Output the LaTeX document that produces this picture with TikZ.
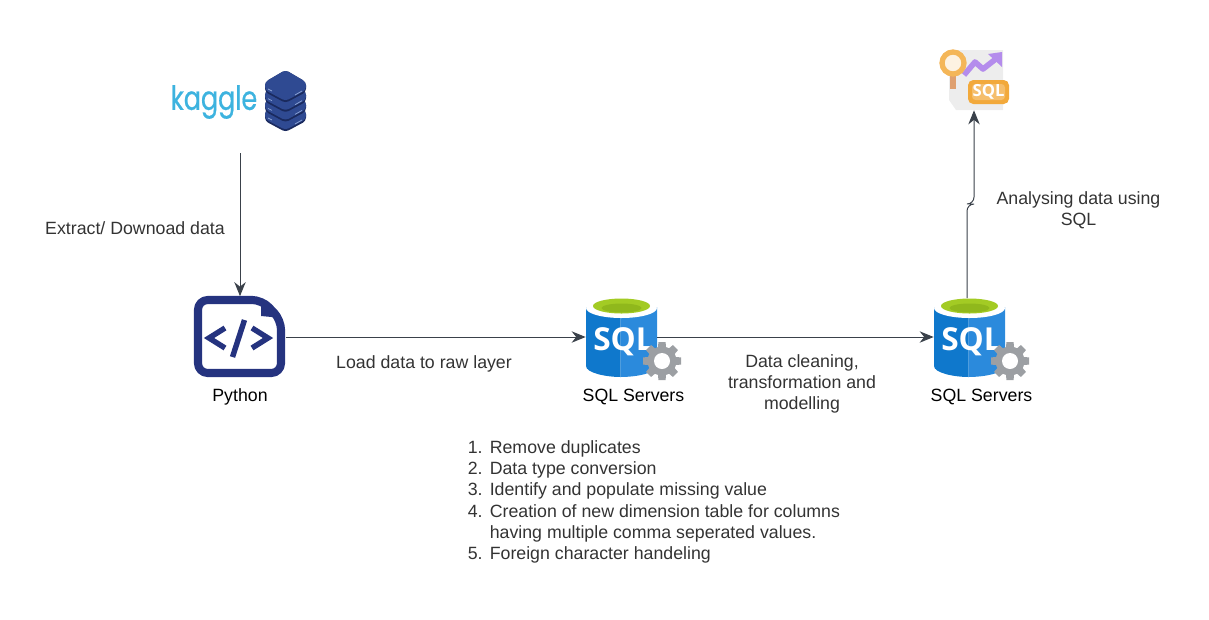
\documentclass[tikz,border=0pt]{standalone}
\usepackage{fontspec}
\setmainfont{Liberation Sans}
\newfontfamily\kagglefont[FakeBold=0.7]{Poppins}
\newfontfamily\sqlfont{Open Sans}
\usetikzlibrary{arrows.meta}

\definecolor{flowgrey}{HTML}{3A414A}
\definecolor{textgrey}{HTML}{333333}
\definecolor{navyicon}{HTML}{25337F}
\definecolor{sqlleft}{HTML}{0F78CC}
\definecolor{sqlright}{HTML}{2B8ADC}
\definecolor{sqlgreen}{HTML}{A3CB24}
\definecolor{sqlgreendark}{HTML}{90B81C}
\definecolor{geargrey}{HTML}{9C9FA3}
\definecolor{kagglecyan}{HTML}{3DB3DF}
\definecolor{stackblue}{HTML}{2F4A92}
\definecolor{stackdark}{HTML}{1A2A5E}
\definecolor{stacklight}{HTML}{8FA6D6}
\definecolor{orangeicon}{HTML}{F2A93B}
\definecolor{purpleicon}{HTML}{B48CEC}

\tikzset{
  flowline/.style={draw=flowgrey, line width=0.55pt, -{Stealth[length=8pt, width=6.5pt]}},
  iconbox/.style={inner sep=0pt, minimum width=#1},
  caption/.style={font=\fontsize{10.1}{12.1}\selectfont, text=black},
  note/.style={font=\fontsize{10.1}{12.1}\selectfont, text=textgrey, align=center},
  sqlicon/.pic={
    % Cylinder body
    \fill[sqlleft] (-35.5,-30) -- (-35.5,29) .. controls (-35.5,36) and (-15,40) .. (-1,40) -- (-1,-30) -- cycle;
    \fill[sqlright] (-1,-30) -- (-1,40) .. controls (15,40) and (35.5,36) .. (35.5,29) -- (35.5,-30) -- cycle;
    \fill[white] (0,-29) ellipse (35.5 and 10);
    \fill[sqlgreen] (0,-31) ellipse (28.5 and 7.5);
    \fill[sqlgreendark] (0,-29) ellipse (20 and 4.5);
    \node[inner sep=0pt, text=white, font=\fontsize{18}{18}\sqlfont\bfseries] (sqltext) at (2,5) {SQL};
    % Gear
    \begin{scope}[shift={(40.5,24)}]
      \foreach \ang in {0,45,...,315} {
        \fill[geargrey, rotate=\ang] (-5,0) -- (5,0) -- (3.6,19) -- (-3.6,19) -- cycle;
      }
      \fill[geargrey] (0,0) circle (14.5);
      \fill[white] (0,0) circle (8);
    \end{scope}
  }
}

\begin{document}
\begin{tikzpicture}[x=0.02cm, y=-0.02cm]
    \useasboundingbox (0,0) rectangle (1209,619);

    % Kaggle logo and server stack
    \node[inner sep=0pt, text=kagglecyan, font=\fontsize{19}{19}\kagglefont] (kaggle) at (214,102) {\scalebox{0.76}[1]{kaggle}};
    \foreach \yy in {29,19.4,9.7,0} {
      \fill[stackdark, rounded corners=2] (265,82+\yy) -- (285.5,70+\yy) -- (306,82+\yy) -- (306,92+\yy) -- (285.5,103+\yy) -- (265,92+\yy) -- cycle;
      \fill[stackblue, rounded corners=2] (265,82+\yy) -- (285.5,70+\yy) -- (306,82+\yy) -- (306,90+\yy) -- (285.5,101+\yy) -- (265,90+\yy) -- cycle;
      \draw[stacklight, line width=0.4pt] (268,89+\yy) -- (272,91+\yy) (295,95+\yy) -- (302,91+\yy);
    }
    \coordinate (kaggleout) at (240,153);

    % Python icon
    \node[iconbox=1.82cm, minimum height=1.62cm] (python) at (240,337) {};
    \draw[navyicon, line width=4.6pt, rounded corners=5.5, line join=round] (198,300) -- (262,300) -- (281,320) -- (281,373) -- (198,373) -- cycle;
    \fill[navyicon] (261,298) -- (282,318) -- (261,316) -- cycle;
    \draw[navyicon, line width=3.1pt] (225,328) -- (209,338) -- (225,348);
    \draw[navyicon, line width=3.1pt] (252,328) -- (268,338) -- (252,348);
    \draw[navyicon, line width=3.1pt] (244.5,320) -- (232.5,357);
    \node[caption] (pythonlabel) at (240,397) {Python};

    % SQL servers
    \node[iconbox=1.42cm, minimum height=1.6cm] (sqla) at (621.5,337) {};
    \pic (sqlaicon) at (sqla) {sqlicon};
    \node[caption] (sqlalabel) at (633.5,396.5) {SQL Servers};
    \node[iconbox=1.42cm, minimum height=1.6cm] (sqlb) at (969.5,337) {};
    \pic (sqlbicon) at (sqlb) {sqlicon};
    \node[caption] (sqlblabel) at (981.5,396.5) {SQL Servers};
    \coordinate (sqlbout) at (967,298);
    \coordinate (jog) at (974,204);

    % Report icon
    \node[iconbox=1.2cm, minimum height=1.2cm] (report) at (974,80) {};
    \fill[black!7] (949,50) -- (1003,50) -- (1003,110) -- (956,110) -- (949,100) -- cycle;
    \draw[purpleicon, line width=3.2pt, line join=round] (964,75) -- (975,62) -- (983,69) -- (997,58);
    \fill[purpleicon] (988,54) -- (1002,52) -- (1002,67) -- cycle;
    \draw[orangeicon!70!purpleicon, line width=3.4pt] (953,76) -- (953,89);
    \draw[orangeicon!85!white, line width=3pt, fill=white!85!orangeicon] (953,63) circle (11);
    \fill[orangeicon, rounded corners=3] (968,80) rectangle (1009,104);
    \fill[orangeicon!75!white, rounded corners=2] (972,84) rectangle (1005,100);
    \node[inner sep=0pt, text=white, font=\fontsize{9.5}{9.5}\sqlfont\bfseries] (reporttext) at (988.5,92) {SQL};

    % Connectors
    \draw[flowline] (kaggleout) -- (python.north);
    \draw[flowline] (python.east) -- (sqla.west);
    \draw[flowline] (sqla.east) -- (sqlb.west);
    \draw[flowline, rounded corners=4] (sqlbout) |- (jog) -- (report.south);

    % Connector labels
    \node[note] (extractlabel) at (135,228) {Extract/ Downoad data};
    \node[note] (loadlabel) at (424,364) {Load data to raw layer};
    \node[note] (cleanlabel) at (802,384) {Data cleaning,\\transformation and\\modelling};
    \node[note] (analyselabel) at (1078.5,210) {Analysing data using\\SQL};

    % Cleaning steps
    \node[note, anchor=north west, inner sep=0pt, align=left] (steps) at (467.5,438) {%
      \renewcommand{\arraystretch}{1}%
      \setlength{\tabcolsep}{0pt}%
      \begin{tabular}{@{}p{12.5pt}l@{}}
        1. & Remove duplicates\\
        2. & Data type conversion\\
        3. & Identify and populate missing value\\
        4. & Creation of new dimension table for columns\\
           & having multiple comma seperated values.\\
        5. & Foreign character handeling
      \end{tabular}};
\end{tikzpicture}
\end{document}
